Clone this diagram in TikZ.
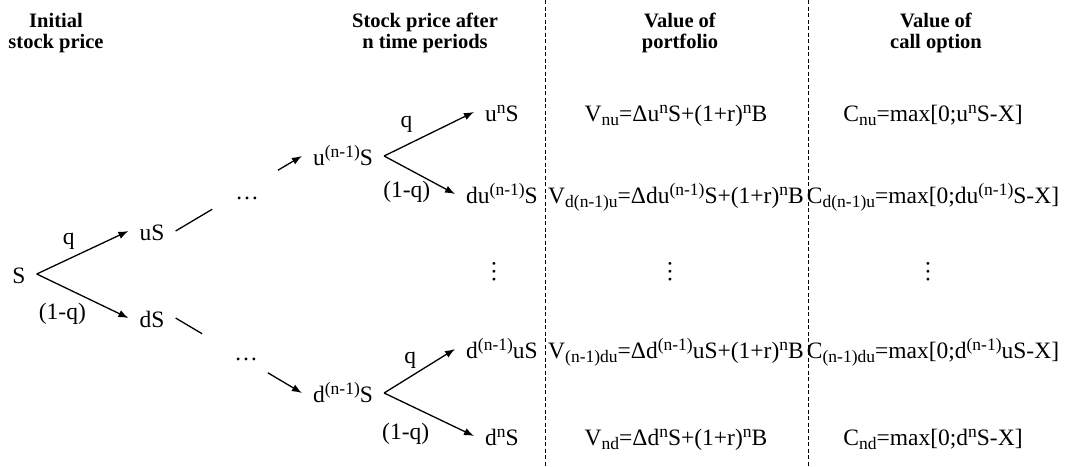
\documentclass[tikz,border=0pt]{standalone}
\usepackage{fontspec}
\setmainfont{Liberation Serif}
\usetikzlibrary{arrows.meta,calc}

\newcommand\txtsize{\fontsize{23.5}{26}\selectfont}
\newcommand\headsize{\fontsize{20.5}{21.5}\selectfont\bfseries}
\newcommand\upx[1]{\raisebox{7.5pt}{\fontsize{17.5}{17.5}\selectfont #1}}
\newcommand\dnx[1]{\raisebox{-4.5pt}{\fontsize{17.5}{17.5}\selectfont #1}}

\begin{document}
\begin{tikzpicture}[x=1pt,y=-1pt,
txt/.style={anchor=base,inner xsep=11pt,inner ysep=0pt,text height=18pt,text depth=0pt,font=\txtsize},
lbl/.style={inner sep=0pt,font=\txtsize},
head/.style={align=center,inner sep=0pt,font=\headsize},
vdts/.style={rotate=90,inner sep=0pt,font=\txtsize},
arr/.style={-{Latex[length=10pt,width=7.5pt]},line width=1.3pt},
seg/.style={line width=1.3pt},
sep/.style={dash pattern=on 4pt off 2.5pt,line width=0.9pt}
]
\useasboundingbox (0,0) rectangle (1065,466);

% headers
\node[head] (hInit) at (56,33) {Initial\\stock price};
\node[head] (hStock) at (425,33) {Stock price after\\n time periods};
\node[head] (hPort) at (680,33) {Value of\\portfolio};
\node[head] (hCall) at (936,33) {Value of\\call option};

% column separators
\draw[sep] (545,0) -- (545,466);
\draw[sep] (808,0) -- (808,466);

% tree
\node[txt] (S) at (19,283) {S};
\node[txt] (uS) at (152,240) {uS};
\node[txt] (dS) at (152,327) {dS};
\node[lbl,anchor=base] (dotsU) at (247,199) {\dots};
\node[lbl,anchor=base] (dotsD) at (246,360) {\dots};
\node[txt] (un1S) at (343,165) {u\upx{(n-1)}S};
\node[txt] (dn1S) at (343,402) {d\upx{(n-1)}S};

% stock price after n periods
\node[txt] (unS) at (502,121) {u\upx{n}S};
\node[txt] (dun1S) at (502,203) {du\upx{(n-1)}S};
\node[vdts] (vdS) at (494,272) {\dots};
\node[txt] (dn1uS) at (502,358) {d\upx{(n-1)}uS};
\node[txt] (dnS) at (502,445) {d\upx{n}S};

% portfolio
\node[txt] (Vnu) at (676,121) {V\dnx{nu}=Δu\upx{n}S+(1+r)\upx{n}B};
\node[txt] (Vdu) at (676,203) {V\dnx{d(n-1)u}=Δdu\upx{(n-1)}S+(1+r)\upx{n}B};
\node[vdts] (vdV) at (670,272) {\dots};
\node[txt] (Vud) at (676,358) {V\dnx{(n-1)du}=Δd\upx{(n-1)}uS+(1+r)\upx{n}B};
\node[txt] (Vnd) at (676,445) {V\dnx{nd}=Δd\upx{n}S+(1+r)\upx{n}B};

% call option
\node[txt] (Cnu) at (933,121) {C\dnx{nu}=max[0;u\upx{n}S-X]};
\node[txt] (Cdu) at (933,203) {C\dnx{d(n-1)u}=max[0;du\upx{(n-1)}S-X]};
\node[vdts] (vdC) at (928,272) {\dots};
\node[txt] (Cud) at (933,358) {C\dnx{(n-1)du}=max[0;d\upx{(n-1)}uS-X]};
\node[txt] (Cnd) at (933,445) {C\dnx{nd}=max[0;d\upx{n}S-X]};

% branches
\draw[arr] (S.east) -- node[lbl,pos=.35,above=9pt]{q} (uS.west);
\draw[arr] (S.east) -- node[lbl,pos=.28,below=16pt]{(1-q)} (dS.west);
\draw[seg] (uS.east) -- ($(uS.east)!.29!(un1S.west)$);
\draw[arr] ($(uS.east)!.81!(un1S.west)$) -- (un1S.west);
\draw[seg] (dS.east) -- ($(dS.east)!.21!(dn1S.west)$);
\draw[arr] ($(dS.east)!.73!(dn1S.west)$) -- (dn1S.west);
\draw[arr] (un1S.east) -- node[lbl,pos=.25,above=12pt]{q} (unS.west);
\draw[arr] (un1S.east) -- node[lbl,pos=.32,below=12pt]{(1-q)} (dun1S.west);
\draw[arr] (dn1S.east) -- node[lbl,pos=.37,above=8pt]{q} (dn1uS.west);
\draw[arr] (dn1S.east) -- node[lbl,pos=.24,below=19pt]{(1-q)} (dnS.west);
\end{tikzpicture}
\end{document}
